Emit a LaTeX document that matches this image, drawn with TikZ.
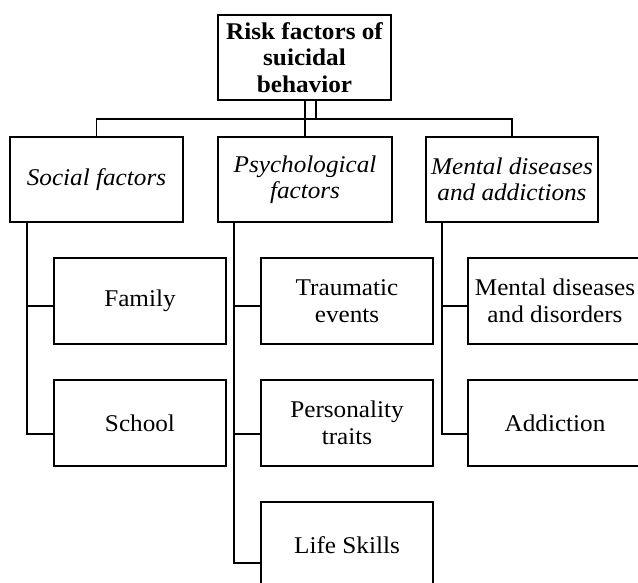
\documentclass[tikz,border=0pt]{standalone}
\usepackage{fontspec}
\setmainfont{Liberation Serif}[FakeStretch=1.05]
\begin{document}
\begin{tikzpicture}[x=1pt,y=-1pt,
  box/.style={draw=black,line width=1.8pt,fill=white,inner sep=0pt,align=center,
    font=\fontsize{24}{26.5}\selectfont},
  w172/.style={minimum width=172pt,minimum height=86pt},
  conn/.style={draw=black,line width=1.8pt}]
\useasboundingbox[fill=white] (0,0) rectangle (638,583);
% level 0
\node[box,minimum width=173pt,minimum height=85pt,font=\fontsize{24}{26.5}\selectfont\bfseries] (top) at (304.5,57.5) {Risk factors of\\suicidal\\behavior};
% level 1
\node[box,minimum width=173pt,minimum height=85pt,font=\fontsize{24}{26.5}\selectfont\itshape] (social) at (96.5,179.5) {Social factors};
\node[box,minimum width=174pt,minimum height=85pt,font=\fontsize{24}{26.5}\selectfont\itshape] (psych) at (305,179.5) {Psychological\\factors};
\node[box,minimum width=172pt,minimum height=85pt,font=\fontsize{24}{26.5}\selectfont\itshape] (mental) at (512,179.5) {Mental diseases\\and addictions};
% level 2
\node[box,w172] (family) at (140,301) {Family};
\node[box,w172] (school) at (140,423) {School};
\node[box,w172] (trauma) at (347,301) {Traumatic\\events};
\node[box,w172] (person) at (347,423) {Personality\\traits};
\node[box,w172] (life) at (347,545) {Life Skills};
\node[box,minimum width=174pt,minimum height=86pt] (mdd) at (555,301) {Mental diseases\\and disorders};
\node[box,minimum width=174pt,minimum height=86pt] (addict) at (555,423) {Addiction};
% top connectors
\coordinate (bar) at (304,119);
\coordinate (j2) at (316,119);
\draw[conn] (social.north) |- (bar) -| (mental.north);
\draw[conn] (top.south -| psych.north) -- (psych.north);
\draw[conn] (top.south -| j2) -- (j2);
% social branch
\draw[conn] ([xshift=18pt]social.south west) |- ([yshift=-11pt]school.west);
\draw[conn] ([yshift=-5pt]family.west) -- ++(-26,0);
% psych branch
\draw[conn] ([xshift=17pt]psych.south west) |- ([yshift=-18pt]life.west);
\draw[conn] ([yshift=-5pt]trauma.west) -- ++(-26,0);
\draw[conn] ([yshift=-11pt]person.west) -- ++(-26,0);
% mental branch
\draw[conn] ([xshift=17pt]mental.south west) |- ([yshift=-11pt]addict.west);
\draw[conn] ([yshift=-5pt]mdd.west) -- ++(-25,0);
\end{tikzpicture}
\end{document}
